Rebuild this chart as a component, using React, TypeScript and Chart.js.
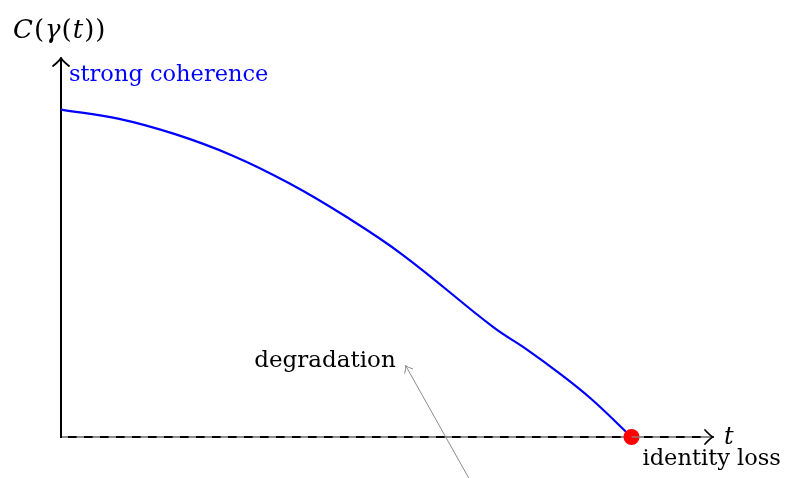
import React, { useEffect, useRef } from "react";
import { Chart, registerables } from "chart.js";

Chart.register(...registerables);

// Time along the trajectory γ(t) and the coherence C(γ(t)) at each sample
const tValues = [0, 0.7, 1.4, 2.1, 2.8, 3.5, 4.2, 5.3, 5.7, 6.1, 6.5, 7.0];
const coherence = [4.0, 3.89, 3.7, 3.44, 3.1, 2.69, 2.22, 1.345, 1.08, 0.79, 0.47, 0];

// Point where coherence vanishes
const lossT = [7];
const lossC = [0];

// Axis extents (arrow tips)
const tAxisMax = 8;
const cAxisMax = 4.63;

// "degradation" pointer: head and tail in data units
const degradationHead = [4.23, 0.87];
const degradationTail = [5.07, -0.62];

const SERIF = "'DejaVu Serif', 'Liberation Serif', serif";

function stroke(ctx: CanvasRenderingContext2D, x1: number, y1: number, x2: number, y2: number) {
  ctx.beginPath();
  ctx.moveTo(x1, y1);
  ctx.lineTo(x2, y2);
  ctx.stroke();
}

// Curved open arrow tip pointing along angle `ang` with its point at (px, py)
function arrowTip(
  ctx: CanvasRenderingContext2D,
  px: number,
  py: number,
  ang: number,
  len: number,
  half: number
) {
  const cos = Math.cos(ang);
  const sin = Math.sin(ang);
  const tf = (u: number, v: number): [number, number] => [px + u * cos - v * sin, py + u * sin + v * cos];
  for (const s of [-1, 1]) {
    const w = tf(-len, s * half);
    const c = tf(-len * 0.35, s * half * 0.18);
    const t = tf(0, 0);
    ctx.beginPath();
    ctx.moveTo(w[0], w[1]);
    ctx.quadraticCurveTo(c[0], c[1], t[0], t[1]);
    ctx.stroke();
  }
}

const axesPlugin = {
  id: "coherenceAxes",
  beforeDatasetsDraw(chart: any) {
    const { ctx } = chart;
    const x = chart.scales.x;
    const y = chart.scales.y;
    const x0 = x.getPixelForValue(0);
    const y0 = y.getPixelForValue(0);
    const xEnd = x.getPixelForValue(tAxisMax);
    const yEnd = y.getPixelForValue(cAxisMax);
    ctx.save();
    ctx.lineCap = "butt";

    // t axis: grey rule with black dashes over it
    ctx.strokeStyle = "#8c8c8c";
    ctx.lineWidth = 2.2;
    stroke(ctx, x0, y0, xEnd - 1, y0);
    ctx.strokeStyle = "#000";
    ctx.lineWidth = 2;
    ctx.setLineDash([8.6, 7.4]);
    ctx.lineDashOffset = 9;
    stroke(ctx, x0, y0, xEnd - 7, y0);
    ctx.setLineDash([]);
    ctx.lineWidth = 1.8;
    ctx.lineCap = "round";
    arrowTip(ctx, xEnd, y0, 0, 8, 7);

    // C axis
    ctx.lineCap = "butt";
    ctx.lineWidth = 2;
    stroke(ctx, x0, y0 + 1, x0, yEnd + 1);
    ctx.lineCap = "round";
    ctx.lineWidth = 1.8;
    arrowTip(ctx, x0, yEnd, -Math.PI / 2, 8, 8);
    ctx.restore();
  },
  afterDatasetsDraw(chart: any) {
    const { ctx } = chart;
    const x = chart.scales.x;
    const y = chart.scales.y;
    const px = x.getPixelForValue(lossT[0]);
    const py = y.getPixelForValue(lossC[0]);
    ctx.save();
    // faint axis rule showing through the marker
    ctx.strokeStyle = "rgba(140,140,140,0.6)";
    ctx.lineWidth = 2;
    stroke(ctx, px, py, px + 9, py);

    // degradation pointer
    const hx = x.getPixelForValue(degradationHead[0]);
    const hy = y.getPixelForValue(degradationHead[1]);
    const tx = x.getPixelForValue(degradationTail[0]);
    const ty = y.getPixelForValue(degradationTail[1]);
    ctx.strokeStyle = "#8a8a8a";
    ctx.lineWidth = 1;
    stroke(ctx, tx, ty, hx, hy);
    ctx.lineCap = "round";
    arrowTip(ctx, hx, hy, Math.atan2(hy - ty, hx - tx), 6, 4.5);
    ctx.restore();
  },
  afterDraw(chart: any) {
    const { ctx } = chart;
    const x = chart.scales.x;
    const y = chart.scales.y;
    const x0 = x.getPixelForValue(0);
    const yEnd = y.getPixelForValue(cAxisMax);
    const xEnd = x.getPixelForValue(tAxisMax);
    const y0 = y.getPixelForValue(0);
    ctx.save();
    ctx.textBaseline = "alphabetic";
    ctx.textAlign = "left";

    // C(γ(t)) axis title
    const pieces: [string, boolean][] = [
      ["C", true],
      ["(", false],
      ["γ", true],
      ["(", false],
      ["t", true],
      [")", false],
      [")", false],
    ];
    let cx = x0 - 48;
    const by = yEnd - 20;
    ctx.fillStyle = "#000";
    for (const [s, it] of pieces) {
      ctx.font = `${it ? "italic " : ""}26px ${SERIF}`;
      ctx.fillText(s, cx, by);
      cx += ctx.measureText(s).width + 1;
    }

    // strong coherence
    ctx.fillStyle = "#0000ff";
    ctx.font = `22.5px ${SERIF}`;
    ctx.fillText("strong coherence", x0 + 8, yEnd + 23);

    // t
    ctx.fillStyle = "#000";
    ctx.font = `italic 24px ${SERIF}`;
    ctx.fillText("t", xEnd + 11, y0 + 7);

    // identity loss
    const lx = x.getPixelForValue(lossT[0]);
    const ly = y.getPixelForValue(lossC[0]);
    ctx.font = `22.5px ${SERIF}`;
    ctx.fillText("identity loss", lx + 11, ly + 28);

    // degradation
    const hx = x.getPixelForValue(degradationHead[0]);
    const hy = y.getPixelForValue(degradationHead[1]);
    ctx.textAlign = "right";
    ctx.font = `23px ${SERIF}`;
    ctx.fillText("degradation", hx - 10, hy + 1);
    ctx.restore();
  },
};

export default function App() {
  const ref = useRef<HTMLCanvasElement | null>(null);

  useEffect(() => {
    if (!ref.current) return;
    const chart = new Chart(ref.current, {
      type: "line",
      data: {
        datasets: [
          {
            type: "scatter",
            data: lossT.map((t, i) => ({ x: t, y: lossC[i] })),
            backgroundColor: "#ff0000",
            borderWidth: 0,
            pointRadius: 8,
            pointHoverRadius: 8,
            clip: false as any,
            order: 0,
          },
          {
            type: "line",
            data: tValues.map((t, i) => ({ x: t, y: coherence[i] })),
            borderColor: "#0000ff",
            borderWidth: 2.2,
            pointRadius: 0,
            tension: 0.4,
            fill: false,
            clip: false as any,
            order: 1,
          },
        ],
      },
      options: {
        animation: false,
        responsive: false,
        events: [],
        layout: { padding: { left: 61, right: 74, top: 58, bottom: 41 } },
        plugins: { legend: { display: false }, tooltip: { enabled: false } },
        scales: {
          x: { type: "linear", min: 0, max: tAxisMax, display: false },
          y: { type: "linear", min: 0, max: cAxisMax, display: false },
        },
      },
      plugins: [axesPlugin],
    });
    return () => chart.destroy();
  }, []);

  return (
    <div style={{ position: "fixed", left: 0, top: 0, width: 787, height: 478, background: "#fff" }}>
      <canvas ref={ref} width={787} height={478} style={{ display: "block" }} />
    </div>
  );
}
